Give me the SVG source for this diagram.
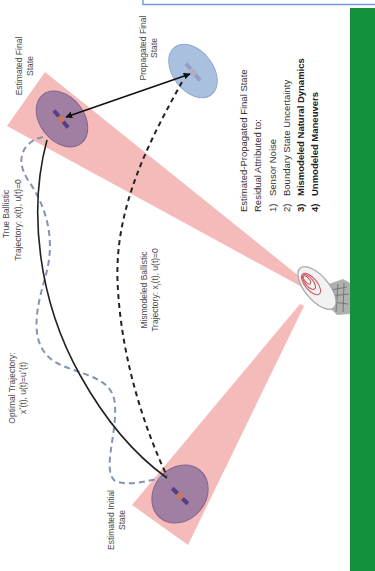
<svg xmlns="http://www.w3.org/2000/svg" width="375" height="571" viewBox="0 0 375 571">
  <defs>
    <style>
      .lbl { font-family: "Liberation Sans", Arial, sans-serif; font-size: 8.5px; fill: #4a4a4a; text-anchor: middle; }
      .list { font-family: "Liberation Sans", Arial, sans-serif; font-size: 9.5px; fill: #333; }
      .bold { font-weight: bold; fill: #222; }
      .beam { fill: #f1a8a7; opacity: 0.78; }
      .est { fill: #9a7aa2; stroke: #7b5c88; stroke-width: 1; opacity: 0.92; }
      .prop { fill: #a9c1df; stroke: #8ba7cf; stroke-width: 1; }
      .panel { fill: #5a3d86; }
      .body { fill: #c9785a; }
      .traj { fill: none; stroke: #222; stroke-width: 1.6; }
      .mis { fill: none; stroke: #222; stroke-width: 2; stroke-dasharray: 5 4; }
      .opt { fill: none; stroke: #8593b6; stroke-width: 2; stroke-dasharray: 6 4; }
    </style>
    <marker id="head" viewBox="0 0 10 10" refX="9" refY="5" markerWidth="7" markerHeight="7" orient="auto-start-reverse" markerUnits="userSpaceOnUse">
      <path d="M0,0 L10,5 L0,10 z" fill="#111"/>
    </marker>
    <g id="sat">
      <rect class="panel" x="-11" y="-2" width="7.5" height="4"/>
      <rect class="panel" x="3.5" y="-2" width="7.5" height="4"/>
      <rect class="body" x="-2.8" y="-2.8" width="5.6" height="5.6"/>
    </g>
  </defs>

  <rect width="375" height="571" fill="#fff"/>

  <!-- frame edge at top and green side bar -->
  <path d="M143,-2 V4.5 H380" fill="none" stroke="#6d9bd9" stroke-width="1.4"/>
  <rect x="350" y="8" width="25" height="563" fill="#14913f"/>

  <!-- radar beams -->
  <g id="beams">
    <polygon class="beam" points="45,72 7,126 302,287 305,281"/>
    <polygon class="beam" points="300,304 132,505 188,545 304,306"/>
  </g>

  <!-- radar dish and mount -->
  <g id="radar">
    <path d="M326,285 L343,279 L350,283 L350,314 L337,315 L327,305 z" fill="#a2a2a2" opacity="0.85"/>
    <path d="M331,290 L347,287 M330,296 L349,294 M332,302 L348,304 M338,284 L336,312 M344,283 L343,312" stroke="#707070" stroke-width="0.9" fill="none"/>
    <ellipse cx="317" cy="288" rx="26" ry="12" transform="rotate(50 317 288)" fill="#f2f2f2" stroke="#a3a3a3" stroke-width="1.2"/>
    <ellipse cx="311" cy="284" rx="13" ry="6" transform="rotate(50 311 284)" fill="none" stroke="#c9545c" stroke-width="1"/>
    <ellipse cx="309" cy="282" rx="9" ry="4" transform="rotate(50 309 282)" fill="none" stroke="#c9545c" stroke-width="1"/>
    <ellipse cx="307" cy="280" rx="5" ry="2.2" transform="rotate(50 307 280)" fill="none" stroke="#c9545c" stroke-width="1"/>
  </g>

  <!-- state uncertainty ellipses with spacecraft -->
  <g id="est-final">
    <ellipse class="est" cx="62" cy="119" rx="31" ry="22" transform="rotate(52 62 119)"/>
    <use href="#sat" transform="translate(61,119) rotate(50)"/>
  </g>
  <g id="prop-final">
    <ellipse class="prop" cx="193" cy="71" rx="30" ry="20" transform="rotate(52 193 71)"/>
    <use href="#sat" transform="translate(193,72) rotate(50)" opacity="0.25"/>
  </g>
  <g id="est-initial">
    <ellipse class="est" cx="180" cy="494" rx="31" ry="26" transform="rotate(-50 180 494)"/>
    <use href="#sat" transform="translate(180,496) rotate(45)"/>
  </g>

  <!-- connectors -->
  <g id="connectors">
    <path class="opt" d="M43,137 C28,140 12,155 28,180 C50,212 55,245 45,278 C36,310 28,345 55,362 C80,376 113,375 115,405 C117,435 102,470 115,481 C130,487 150,480 166,477"/>
    <path class="traj" d="M47,140 C28,210 38,300 80,375 C105,420 135,455 167,478"/>
    <path class="mis" d="M182,82 C150,140 112,210 118,290 C122,360 145,430 167,476"/>
    <line x1="66" y1="117" x2="190" y2="74" stroke="#111" stroke-width="1.6" marker-start="url(#head)" marker-end="url(#head)"/>
  </g>

  <!-- labels -->
  <g id="label-est-final">
    <text class="lbl" transform="translate(22,66) rotate(-90)">Estimated Final</text>
    <text class="lbl" transform="translate(33,66) rotate(-90)">State</text>
  </g>
  <g id="label-prop-final">
    <text class="lbl" transform="translate(146,48) rotate(-90)">Propagated Final</text>
    <text class="lbl" transform="translate(157,48) rotate(-90)">State</text>
  </g>
  <g id="label-true">
    <text class="lbl" transform="translate(9,214) rotate(-90)">True Ballistic</text>
    <text class="lbl" transform="translate(21,220) rotate(-90)">Trajectory: x(t), u(t)=0</text>
  </g>
  <g id="label-opt">
    <text class="lbl" transform="translate(15,388) rotate(-90)">Optimal Trajectory:</text>
    <text class="lbl" transform="translate(26,388) rotate(-90)">x<tspan baseline-shift="super" font-size="6">*</tspan>(t), u(t)=u<tspan baseline-shift="super" font-size="6">*</tspan>(t)</text>
  </g>
  <g id="label-mis">
    <text class="lbl" transform="translate(147,290) rotate(-90)">Mismodeled Ballistic</text>
    <text class="lbl" transform="translate(158,290) rotate(-90)">Trajectory: x<tspan baseline-shift="sub" font-size="6">r</tspan>(t), u(t)=0</text>
  </g>
  <g id="label-est-initial">
    <text class="lbl" transform="translate(114,520) rotate(-90)">Estimated Initial</text>
    <text class="lbl" transform="translate(125,520) rotate(-90)">State</text>
  </g>

  <!-- residual attribution list -->
  <g id="residual-list">
    <text class="list" transform="translate(247,212) rotate(-90)">Estimated-Propagated Final State</text>
    <text class="list" transform="translate(261,212) rotate(-90)">Residual Attributed to:</text>
    <text class="list" transform="translate(276,212) rotate(-90)">1)</text>
    <text class="list" transform="translate(276,196) rotate(-90)">Sensor Noise</text>
    <text class="list" transform="translate(290,212) rotate(-90)">2)</text>
    <text class="list" transform="translate(290,196) rotate(-90)">Boundary State Uncertainty</text>
    <text class="list bold" transform="translate(304,212) rotate(-90)">3)</text>
    <text class="list bold" transform="translate(304,196) rotate(-90)">Mismodeled Natural Dynamics</text>
    <text class="list bold" transform="translate(318,212) rotate(-90)">4)</text>
    <text class="list bold" transform="translate(318,196) rotate(-90)">Unmodeled Maneuvers</text>
  </g>
</svg>
